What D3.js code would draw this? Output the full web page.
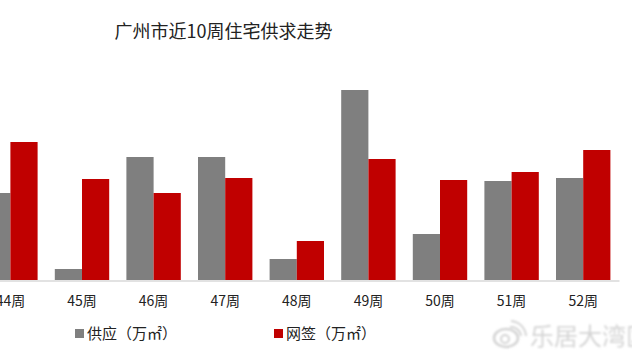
<!DOCTYPE html>
<html><head><meta charset="utf-8">
<script src="https://cdnjs.cloudflare.com/ajax/libs/d3/7.8.5/d3.min.js"></script>
<style>html,body{margin:0;padding:0;background:#fff}svg{display:block}text{font-family:"Noto Sans CJK SC","Noto Sans",sans-serif}</style>
</head><body><svg id="c" width="632" height="356"></svg>
<script>
const categories = ["44周","45周","46周","47周","48周","49周","50周","51周","52周"];
const supply = [87,11,123,123,21,190,46,99,102];
const signed = [138,101,87,102,39,121,100,108,130];
const seriesNames = ["供应（万㎡）","网签（万㎡）"];
const colors = ["#7f7f7f","#c00000"];
const titleText = "广州市近10周住宅供求走势";
const watermark = "乐居大湾区";

const svg = d3.select("#c");
const defs = svg.append("defs");
defs.append("filter").attr("id","b").append("feGaussianBlur").attr("stdDeviation",0.8);

const x = d3.scaleBand().domain(categories).range([-25.4,619]).paddingInner(0.245).paddingOuter(0.1225);
const y = d3.scaleLinear().domain([0,200]).range([280,80]);
const bw = 27.2;

svg.append("text").attr("x",223.5).attr("y",37.5).attr("text-anchor","middle")
  .attr("font-size",18).attr("font-weight",400).attr("fill","#222").text(titleText);

[supply,signed].forEach((vals,s)=>{
  svg.append("g").selectAll("rect").data(vals).join("rect")
    .attr("x",(d,i)=>x(categories[i])+x.bandwidth()/2-bw+s*bw)
    .attr("width",bw)
    .attr("y",d=>y(d)).attr("height",d=>y(0)-y(d))
    .attr("fill",colors[s]);
});

const ax = svg.append("g").attr("transform",`translate(0,${y(0)+0.5})`)
  .call(d3.axisBottom(x).tickSize(0).tickPadding(16));
ax.select(".domain").attr("stroke","#d9d9d9").attr("stroke-width",1.6);
ax.selectAll("text").attr("font-size",14).attr("fill","#222");

const legendX = [75,274];
seriesNames.forEach((n,i)=>{
  svg.append("rect").attr("x",legendX[i]).attr("y",329).attr("width",9).attr("height",9).attr("fill",colors[i]);
  svg.append("text").attr("x",legendX[i]+12).attr("y",339).attr("font-size",15).attr("fill","#222").text(n);
});

const wm = svg.append("g").attr("filter","url(#b)");
wm.append("ellipse").attr("cx",506).attr("cy",338).attr("rx",12).attr("ry",9).attr("fill","none").attr("stroke","#d4d4d4").attr("stroke-width",2.5);
wm.append("circle").attr("cx",505).attr("cy",339).attr("r",4).attr("fill","none").attr("stroke","#d4d4d4").attr("stroke-width",2);
wm.append("path").attr("d","M510 327a10 10 0 0 1 11 9M511 321a16 16 0 0 1 15 15").attr("fill","none").attr("stroke","#d4d4d4").attr("stroke-width",2);
wm.append("text").attr("x",530).attr("y",345).attr("font-size",24).attr("fill","#d4d4d4").text(watermark);
</script></body></html>
